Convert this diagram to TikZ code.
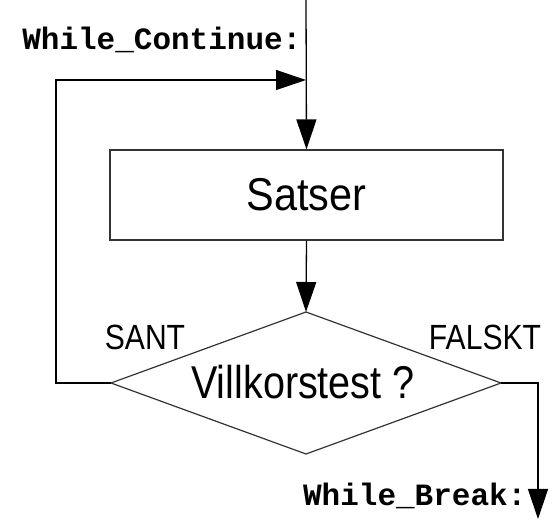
\documentclass[tikz,border=0pt]{standalone}
\usepackage{fontspec}
\usepackage{graphicx}
\setmainfont{Liberation Sans}
\newfontfamily\codefont{Liberation Mono}
\usetikzlibrary{arrows.meta}
\newcommand{\narrow}[2][0.86]{\scalebox{#1}[1]{#2}}
\begin{document}
\begin{tikzpicture}[x=1pt,y=-1pt,
  line width=1.3pt,
  flow/.style={-{Triangle[length=30pt,width=20pt]}},
  bigtext/.style={font=\fontsize{46}{50}\selectfont, inner sep=0pt},
  labtext/.style={font=\fontsize{35}{40}\selectfont, inner sep=0pt},
  codetext/.style={font=\codefont\bfseries\fontsize{31}{35}\selectfont, inner sep=0pt},
  stepbox/.style={draw=black!80, line width=1.2pt, minimum width=393pt, minimum height=90pt, inner sep=0pt},
  testline/.style={draw=black!80, line width=1.2pt, line join=miter}]
\useasboundingbox (0,0) rectangle (555,521);
\coordinate (top) at (306,0);
\node[stepbox, bigtext] (box) at (306.5,195) {\narrow[0.9]{Satser}};
% diamond corners
\coordinate (dN) at (306,312);
\coordinate (dE) at (501,383);
\coordinate (dS) at (306,454);
\coordinate (dW) at (111,383);
\draw[testline] (dN) -- (dE) -- (dS) -- (dW) -- cycle;
\node[bigtext] (dia) at (303,382) {\narrow{Villkorstest ?}};
\coordinate (loopC) at (56,80);
\coordinate (join) at (306,80);
\coordinate (exit) at (538,519);
\draw[flow] (top) -- (box.north);
\draw[flow] (box.south) -- (dN);
\draw[flow] (dW) -| (loopC) -- (join);
\draw[flow] (dE) -| (exit);
\node[labtext] (sant) at (145,337) {\narrow{SANT}};
\node[labtext] (falskt) at (485,337) {\narrow{FALSKT}};
\node[codetext, anchor=east] (wc) at (302,40) {While\_Continue:};
\node[codetext, anchor=east] (wb) at (527,496) {While\_Break:};
\end{tikzpicture}
\end{document}
